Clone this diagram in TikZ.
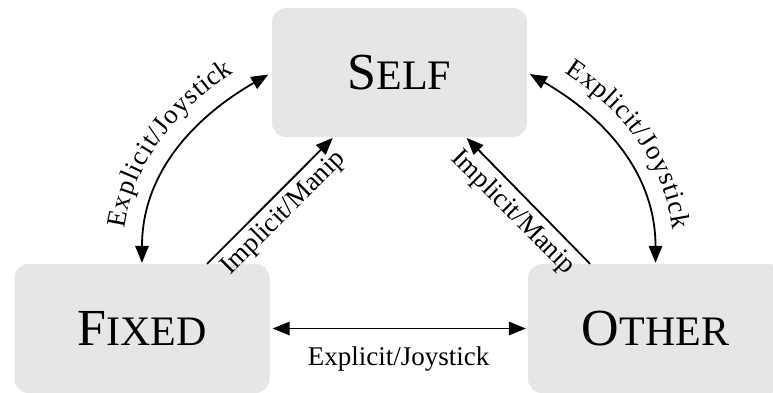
\documentclass[tikz,border=0pt]{standalone}
\usepackage{fontspec}
\setmainfont{Liberation Serif}
\usetikzlibrary{arrows.meta,decorations.text}
\definecolor{boxgray}{HTML}{E6E6E6}
% state names in (faked) small capitals
\newcommand{\statename}[2]{{\fontsize{52}{52}\selectfont #1\fontsize{42}{42}\selectfont #2}}
\newcommand{\lblfont}{\fontsize{27}{30}\selectfont}

\begin{document}
\begin{tikzpicture}[x=1pt,y=1pt,
  state/.style={fill=boxgray, rounded corners=14pt, minimum width=255pt,
                minimum height=129pt, inner sep=0pt},
  both/.style={line width=1.8pt,
    {Triangle[length=17pt,width=13.5pt]}-{Triangle[length=17pt,width=13.5pt]}},
  oneway/.style={line width=1.8pt, -{Triangle[length=17pt,width=13.5pt]}},
  lbl/.style={font=\lblfont, inner sep=0pt},
  curvetext/.style={decorate, decoration={text along path,
                text align=center, raise=20pt, text={|\lblfont|#1}}}
]
\useasboundingbox (0,0) rectangle (773,392);
\clip (0,0) rectangle (773,392);

% the three states
\node[state] (self)  at (399.5,319.5) {\statename{S}{ELF}};
\node[state] (fixed) at (142,63.5)    {\statename{F}{IXED}};
\node[state] (other) at (655.5,63.5)  {\statename{O}{THER}};

% explicit / joystick transitions, labels set along the arcs
\draw[both, shorten <=1pt, shorten >=4pt] (fixed.north) to[out=90,in=210] (self.west);
\path[curvetext=Explicit/Joystick] (fixed.north) to[out=90,in=210] (self.west);

\draw[both, shorten <=3pt, shorten >=1pt] (self.east) to[out=-30,in=90] (other.north);
\path[curvetext=Explicit/Joystick] (self.east) to[out=-30,in=90] (other.north);

\draw[both, shorten <=3pt, shorten >=2pt] (fixed.east) -- (other.west);
\node[lbl, anchor=base] (explB) at (398.5,27) {Explicit/Joystick};

% implicit / manipulation transitions
\draw[oneway, shorten >=1pt] ([xshift=65pt]fixed.north) -- ([xshift=-66pt]self.south);
\draw[oneway, shorten >=1pt] ([xshift=-65.5pt]other.north) -- ([xshift=66.5pt]self.south);
\node[lbl, rotate=45]  (implA) at (283.5,179)  {Implicit/Manip};
\node[lbl, rotate=-45] (implB) at (513,179.5)  {Implicit/Manip};
\end{tikzpicture}
\end{document}
